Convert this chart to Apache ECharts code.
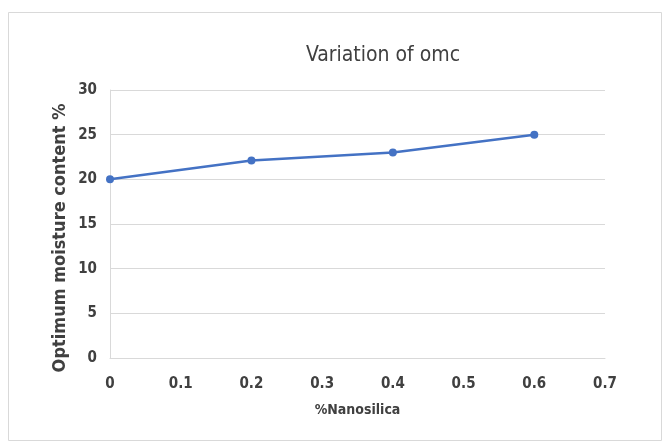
<!DOCTYPE html>
<html><head><meta charset="utf-8">
<script src="https://cdn.jsdelivr.net/npm/echarts@6/dist/echarts.min.js"></script>
<style>html,body{margin:0;padding:0;background:#fff}#c{width:670px;height:446px}</style>
</head><body><div id="c"></div>
<script>
const xValues = [0, 0.2, 0.4, 0.6];
const omcValues = [20, 22.1, 23, 25];
const chartTitle = "Variation of omc";
const xTitle = "%Nanosilica";
const yTitle = "Optimum moisture content %";

const font = "'Liberation Sans Narrow', 'DejaVu Sans Condensed', 'Liberation Sans', sans-serif";
const chart = echarts.init(document.getElementById('c'));
chart.setOption({
  backgroundColor: '#fff',
  animation: false,
  graphic: [
    {type:'rect', shape:{x:8.5,y:12.5,width:653,height:428}, style:{fill:'none', stroke:'#d9d9d9', lineWidth:1}},
    {type:'text', x: 60, y: 238, rotation: Math.PI/2,
      style:{text: yTitle, fontFamily: font, fontSize: 18, fontWeight: 'bold', fill: '#404040',
        textAlign: 'center', textVerticalAlign: 'middle'}}
  ],
  title: {text: chartTitle, left: 378, top: 40, textAlign: 'center',
    textStyle: {fontFamily: font, fontSize: 21, fontWeight: 'normal', color: '#404040'}},
  grid: {left: 110, right: 65, top: 90, bottom: 88},
  xAxis: {type: 'value', min: 0, max: 0.7, interval: 0.1,
    name: xTitle, nameLocation: 'middle', nameGap: 45,
    nameTextStyle: {fontFamily: font, fontSize: 14, color: '#404040', fontWeight: 'bold'},
    axisLine: {show: true, lineStyle: {color: '#d9d9d9'}}, axisTick: {show: false},
    splitLine: {show: false},
    axisLabel: {fontFamily: font, fontSize: 15, fontWeight: 'bold', color: '#404040', margin: 19,
      formatter: v => String(Math.round(v*10)/10)}},
  yAxis: {type: 'value', min: 0, max: 30, interval: 5,
    axisLine: {show: true, lineStyle: {color: '#d9d9d9'}}, axisTick: {show: false},
    splitLine: {lineStyle: {color: '#d9d9d9'}},
    axisLabel: {fontFamily: font, fontSize: 15, fontWeight: 'bold', color: '#404040', margin: 13}},
  series: [{type: 'line', data: xValues.map((x, i) => [x, omcValues[i]]),
    symbol: 'circle', symbolSize: 8,
    lineStyle: {color: '#4472C4', width: 2.5}, itemStyle: {color: '#4472C4'}}]
});
</script></body></html>
